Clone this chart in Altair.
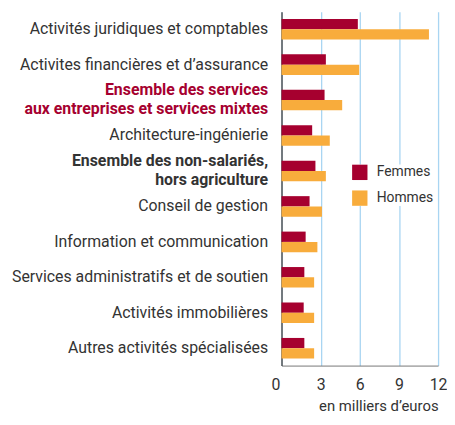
import altair as alt
import pandas as pd

categories = [
    "Activités juridiques et comptables",
    "Activites financières et d\u2019assurance",
    "Ensemble des services\naux entreprises et services mixtes",
    "Architecture-ingénierie",
    "Ensemble des non-salariés,\nhors agriculture",
    "Conseil de gestion",
    "Information et communication",
    "Services administratifs et de soutien",
    "Activités immobilières",
    "Autres activités spécialisées",
]
femmes = [5.85, 3.4, 3.3, 2.35, 2.6, 2.15, 1.85, 1.75, 1.7, 1.75]
hommes = [11.3, 5.95, 4.65, 3.7, 3.4, 3.1, 2.75, 2.5, 2.5, 2.5]
series = ["Femmes", "Hommes"]
colors = ["#a6002f", "#f8ac3c"]
ticks_x = [0, 3, 6, 9, 12]

rows = []
for c, f, h in zip(categories, femmes, hommes):
    rows.append({"cat": c, "sexe": "Femmes", "val": f})
    rows.append({"cat": c, "sexe": "Hommes", "val": h})
df = pd.DataFrame(rows)

FONT = "Roboto"
red_label = categories[2]
bold_label = categories[4]

chart = alt.Chart(df).mark_bar().encode(
    x=alt.X("val:Q",
            scale=alt.Scale(domain=[0, 12], nice=False),
            axis=alt.Axis(values=ticks_x, title="en milliers d\u2019euros",
                          titleAnchor="end", titleFontWeight="normal", titleFontSize=15,
                          titleFont=FONT, titleColor="#333333", titlePadding=6,
                          labelFont=FONT, labelFontSize=16, labelColor="#333333",
                          labelPadding=11, ticks=False, grid=True, gridColor="#a9d5f2",
                          gridWidth=1.3, domainColor="#777777", labelFlush=False,
                          labelOffset=alt.condition("datum.value == 0", alt.value(-6),
                                                    alt.value(0)))),
    y=alt.Y("cat:N", sort=categories,
            scale=alt.Scale(paddingInner=0.42, paddingOuter=0.2),
            axis=alt.Axis(title=None, ticks=False, labelPadding=14, labelFont=FONT,
                          labelFontSize=16, labelLimit=400, domainColor="#555555",
                          domainWidth=1.5,
                          labelExpr="split(datum.label, '\\n')",
                          labelOffset=alt.condition("indexof(datum.value, '\\n') >= 0",
                                                    alt.value(-10), alt.value(0)),
                          labelColor=alt.condition(f"datum.value == {repr(red_label)}",
                                                   alt.value("#a6002f"), alt.value("#333333")),
                          labelFontWeight=alt.condition(
                              f"datum.value == {repr(red_label)} || datum.value == {repr(bold_label)}",
                              alt.value("bold"), alt.value("normal")))),
    yOffset=alt.YOffset("sexe:N", sort=series),
    color=alt.Color("sexe:N", sort=series,
                    scale=alt.Scale(domain=series, range=colors),
                    legend=alt.Legend(title=None, orient="none", legendX=71, legendY=154,
                                      symbolType="square", symbolSize=240, symbolStrokeWidth=0,
                                      labelFont=FONT, labelFontSize=14, labelColor="#333333",
                                      rowPadding=10, labelOffset=9, fillColor="white")),
).properties(
    width=158, height=357,
    padding={"left": 3, "top": 2, "right": 0, "bottom": 0},
).configure_view(stroke=None).configure_axisY(labelLineHeight=19)

chart.save("out.html", embed_options={"renderer": "svg", "actions": False})
